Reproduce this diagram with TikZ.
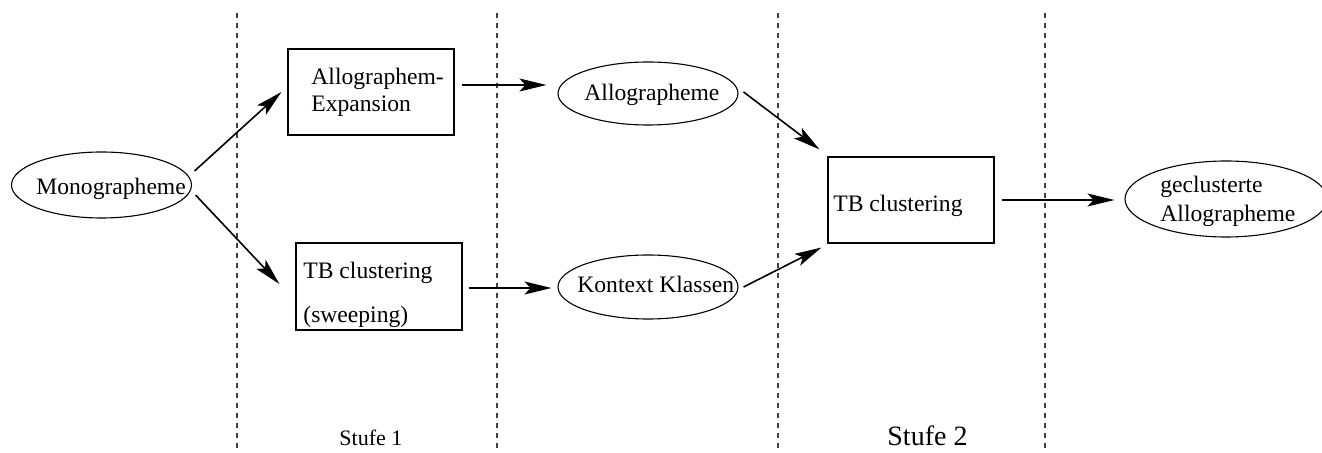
\documentclass[tikz,border=0pt]{standalone}
\usepackage{fontspec}
\setmainfont{Liberation Serif}
\usetikzlibrary{shapes.geometric,arrows.meta}
\begin{document}
\begin{tikzpicture}[x=0.5pt,y=-0.5pt,
  sep/.style={draw=black!75,line width=0.55pt,dash pattern=on 2.7pt off 2.3pt},
  boxnode/.style={draw,line width=0.55pt,rectangle,inner sep=0pt},
  ellnode/.style={draw,line width=0.55pt,ellipse,inner sep=0pt},
  lbl/.style={anchor=base west,inner sep=0pt,font=\fontsize{11.8pt}{14pt}\selectfont},
  arr/.style={line width=0.8pt,-{Stealth[length=13.5pt,width=6.5pt,inset=3pt]}}]
\useasboundingbox (0,0) rectangle (1322,453);
% stage separators
\coordinate (s1t) at (237,13); \coordinate (s1b) at (237,453);
\coordinate (s2t) at (497,13); \coordinate (s2b) at (497,453);
\coordinate (s3t) at (778,13); \coordinate (s3b) at (778,453);
\coordinate (s4t) at (1045,13); \coordinate (s4b) at (1045,453);
\draw[sep] (s1t) -- (s1b);
\draw[sep] (s2t) -- (s2b);
\draw[sep] (s3t) -- (s3b);
\draw[sep] (s4t) -- (s4b);
% shapes
\node[ellnode,minimum width=90pt,minimum height=33pt] (mono) at (101.5,185) {};
\node[boxnode,minimum width=83pt,minimum height=43pt] (ae) at (371,92) {};
\node[boxnode,minimum width=83pt,minimum height=43.5pt] (tbs) at (379,286.5) {};
\node[ellnode,minimum width=90pt,minimum height=31.5pt] (allo) at (648,93.5) {};
\node[ellnode,minimum width=90pt,minimum height=32pt] (kon) at (648,287) {};
\node[boxnode,minimum width=83pt,minimum height=43pt] (tb2) at (911,200) {};
\node[ellnode,minimum width=101pt,minimum height=38pt] (gecl) at (1226,199) {};
% texts
\node[lbl] (tmono) at (36,195) {Monographeme};
\node[lbl] (tae1) at (311,85) {Allographem-};
\node[lbl] (tae2) at (311,112) {Expansion};
\node[lbl] (ttbs1) at (303,279) {TB clustering};
\node[lbl] (ttbs2) at (303,323) {(sweeping)};
\node[lbl] (tallo) at (584,101) {Allographeme};
\node[lbl] (tkon) at (577,293) {Kontext Klassen};
\node[lbl] (ttb2) at (833,211.5) {TB clustering};
\node[lbl] (tgecl1) at (1160,193) {geclusterte};
\node[lbl] (tgecl2) at (1160,222) {Allographeme};
\node[anchor=base west,inner sep=0pt,font=\fontsize{11pt}{13pt}\selectfont] (st1) at (339,446) {Stufe 1};
\node[anchor=base west,inner sep=0pt,font=\fontsize{14pt}{16pt}\selectfont] (st2) at (887,446) {Stufe 2};
% connectors
\draw[arr] ([shift={(2.5,-14)}]mono.east) -- ([shift={(-6,0)}]ae.west);
\draw[arr] ([shift={(3.5,10)}]mono.east) -- ([shift={(-16,-2.5)}]tbs.west);
\draw[arr] ([shift={(7,-7)}]ae.east) -- ([shift={(-11,-8.5)}]allo.west);
\draw[arr] ([shift={(6,1.5)}]tbs.east) -- ([shift={(-6,1)}]kon.west);
\draw[arr] ([shift={(5,-1.5)}]allo.east) -- ([shift={(-8,-7)}]tb2.north west);
\draw[arr] ([shift={(5,0)}]kon.east) -- ([shift={(-6,4)}]tb2.south west);
\draw[arr] ([shift={(7,0)}]tb2.east) -- ([shift={(-10,1)}]gecl.west);
\end{tikzpicture}
\end{document}
